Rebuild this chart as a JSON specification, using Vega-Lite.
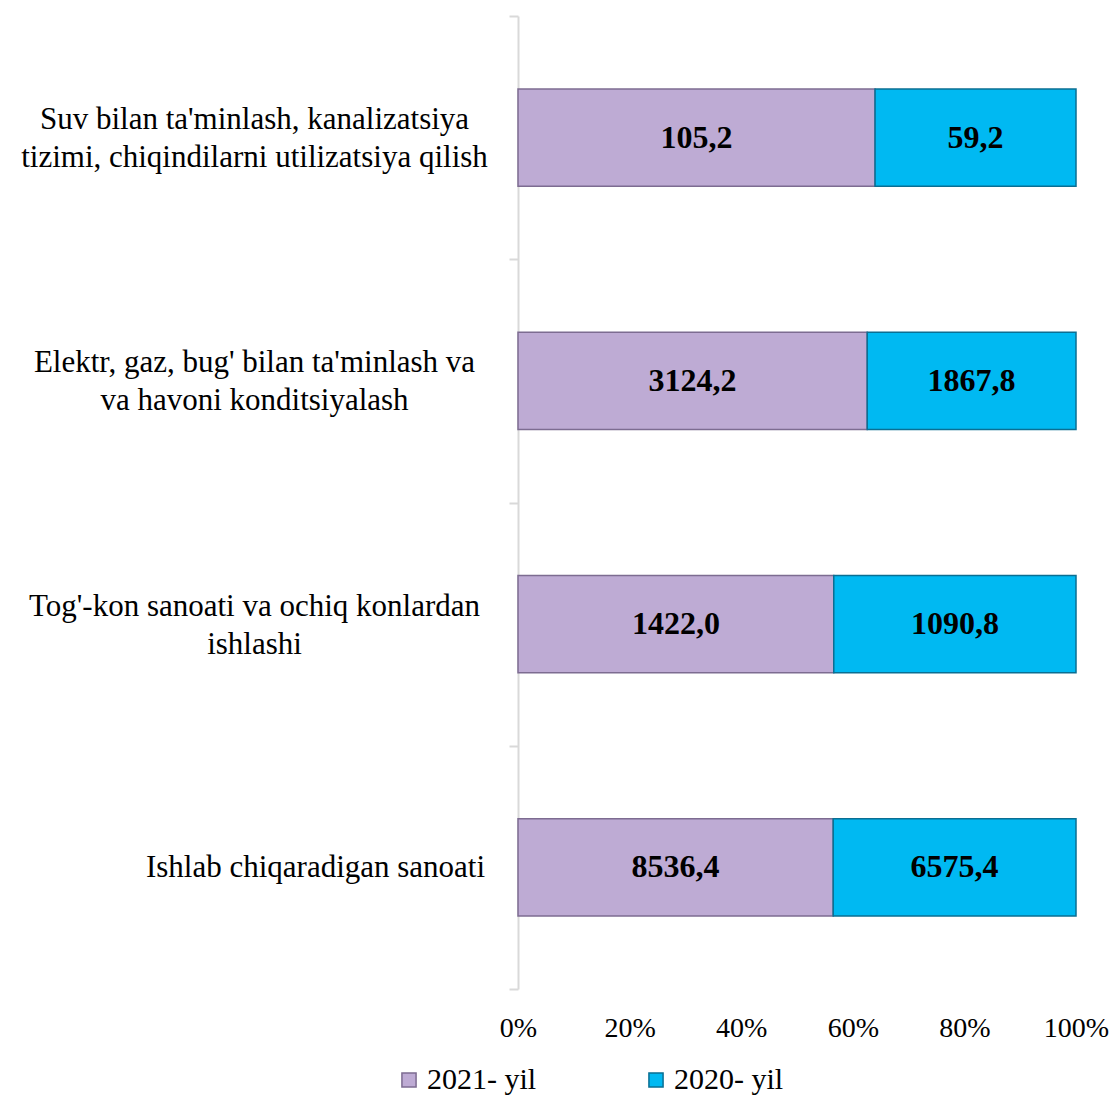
{
  "$schema": "https://vega.github.io/schema/vega-lite/v6.json",
  "width": 558,
  "height": 973,
  "autosize": "none",
  "padding": {"left": 518, "top": 16, "right": 39, "bottom": 111},
  "background": "#ffffff",
  "config": {"view": {"stroke": null}, "font": "Liberation Serif"},
  "data": {
    "values": [
      {"cat": "Suv bilan ta'minlash, kanalizatsiya|tizimi, chiqindilarni utilizatsiya qilish", "year": "2021- yil", "ord": 1, "value": 105.2, "label": "105,2"},
      {"cat": "Suv bilan ta'minlash, kanalizatsiya|tizimi, chiqindilarni utilizatsiya qilish", "year": "2020- yil", "ord": 2, "value": 59.2, "label": "59,2"},
      {"cat": "Elektr, gaz, bug' bilan ta'minlash va|va havoni konditsiyalash", "year": "2021- yil", "ord": 1, "value": 3124.2, "label": "3124,2"},
      {"cat": "Elektr, gaz, bug' bilan ta'minlash va|va havoni konditsiyalash", "year": "2020- yil", "ord": 2, "value": 1867.8, "label": "1867,8"},
      {"cat": "Tog'-kon sanoati va ochiq konlardan|ishlashi", "year": "2021- yil", "ord": 1, "value": 1422.0, "label": "1422,0"},
      {"cat": "Tog'-kon sanoati va ochiq konlardan|ishlashi", "year": "2020- yil", "ord": 2, "value": 1090.8, "label": "1090,8"},
      {"cat": "Ishlab chiqaradigan sanoati", "year": "2021- yil", "ord": 1, "value": 8536.4, "label": "8536,4"},
      {"cat": "Ishlab chiqaradigan sanoati", "year": "2020- yil", "ord": 2, "value": 6575.4, "label": "6575,4"}
    ]
  },
  "encoding": {
    "y": {
      "field": "cat",
      "type": "nominal",
      "sort": [
        "Suv bilan ta'minlash, kanalizatsiya|tizimi, chiqindilarni utilizatsiya qilish",
        "Elektr, gaz, bug' bilan ta'minlash va|va havoni konditsiyalash",
        "Tog'-kon sanoati va ochiq konlardan|ishlashi",
        "Ishlab chiqaradigan sanoati"
      ],
      "scale": {"paddingInner": 0, "paddingOuter": 0},
      "axis": {
        "title": null,
        "labelExpr": "isValid(datum.value) ? split(datum.value, '|') : ''",
        "labelAlign": "center",
        "labelBaseline": "middle",
        "labelFontSize": 31,
        "labelLineHeight": 38,
        "labelColor": "#000000",
        "labelLimit": 600,
        "labelOffset": {"condition": {"test": "isValid(datum.value) && indexof(datum.value + '', '|') >= 0", "value": -18}, "value": 0},
        "labelPadding": {"condition": {"test": "datum.value == 'Ishlab chiqaradigan sanoati'", "value": 194}, "value": 255},
        "domainColor": "#D9D9D9",
        "domainWidth": 2,
        "tickColor": "#D9D9D9",
        "tickWidth": 2,
        "tickSize": 9,
        "tickBand": "extent"
      }
    },
    "x": {
      "field": "value",
      "type": "quantitative",
      "stack": "normalize",
      "axis": {
        "title": null,
        "format": ".0%",
        "values": [0, 0.2, 0.4, 0.6, 0.8, 1],
        "domain": false,
        "ticks": false,
        "grid": false,
        "labelFontSize": 28,
        "labelColor": "#000000",
        "labelPadding": 25,
        "labelFlush": false
      }
    },
    "order": {"field": "ord", "type": "quantitative"}
  },
  "layer": [
    {
      "mark": {"type": "bar", "strokeWidth": 1.5, "height": {"band": 0.4}},
      "encoding": {
        "color": {
          "field": "year",
          "type": "nominal",
          "scale": {"domain": ["2021- yil", "2020- yil"], "range": ["#BEABD4", "#00B9F2"]},
          "legend": {
            "title": null,
            "orient": "none",
            "direction": "horizontal",
            "legendX": -124,
            "legendY": 1049,
            "symbolType": "square",
            "symbolSize": 200,
            "symbolStrokeWidth": 1.5,
            "labelFontSize": 30,
            "labelColor": "#000000",
            "labelOffset": 3,
            "columnPadding": 104,
            "labelLimit": 300
          }
        },
        "stroke": {
          "field": "year",
          "type": "nominal",
          "scale": {"domain": ["2021- yil", "2020- yil"], "range": ["#7D6C91", "#0A6F93"]},
          "legend": null
        }
      }
    },
    {
      "mark": {"type": "text", "fontWeight": "bold", "fontSize": 32, "color": "#000000", "baseline": "middle"},
      "encoding": {
        "x": {"field": "value", "type": "quantitative", "stack": "normalize", "bandPosition": 0.5},
        "text": {"field": "label"}
      }
    }
  ]
}
